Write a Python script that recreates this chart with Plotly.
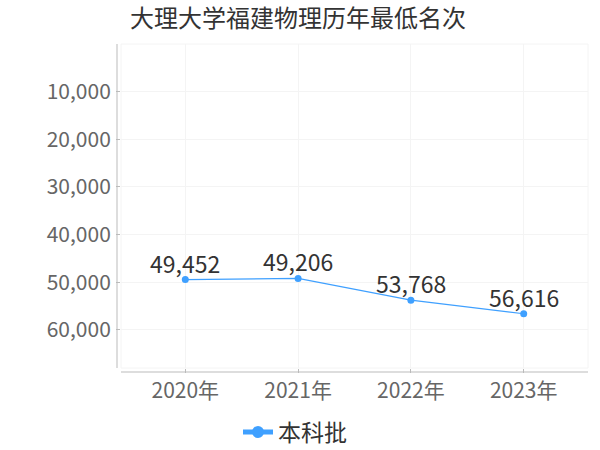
import plotly.graph_objects as go

years = ["2020年", "2021年", "2022年", "2023年"]
ranks = [49452, 49206, 53768, 56616]
rank_labels = ["49,452", "49,206", "53,768", "56,616"]
series_name = "本科批"
title_text = "大理大学福建物理历年最低名次"
y_ticks = [10000, 20000, 30000, 40000, 50000, 60000]

FONT = "Noto Sans CJK SC"
COLOR = "#3fa0ff"

fig = go.Figure()
fig.add_trace(go.Scatter(
    x=years, y=ranks, name=series_name, mode="lines+markers",
    line=dict(color=COLOR, width=1.2),
    marker=dict(color=COLOR, size=7),
    cliponaxis=False,
))

for xv, yv, lab in zip(years, ranks, rank_labels):
    fig.add_annotation(x=xv, y=yv, text=lab, showarrow=False,
                       xanchor="center", yanchor="bottom", yshift=-2,
                       font=dict(size=23, color="#333333", family=FONT))

fig.update_layout(
    width=600, height=450,
    margin=dict(l=121, r=12, t=44, b=82, autoexpand=False),
    paper_bgcolor="white", plot_bgcolor="white",
    title=dict(text=title_text, x=130/600, xanchor="left", yref="container",
               y=1-19/450, yanchor="middle",
               font=dict(size=24, color="#333333", family=FONT)),
    showlegend=True,
    legend=dict(orientation="h", xref="container", x=295/600, xanchor="center",
                yref="container", y=1-432/450, yanchor="middle",
                font=dict(size=23, color="#333333", family=FONT),
                itemwidth=30, itemsizing="constant"),
    xaxis=dict(range=[-0.57, 3.57], showgrid=True, gridcolor="#f4f4f4",
               showline=False, zeroline=False, ticks="outside", ticklen=4,
               tickcolor="#bbbbbb", automargin=False,
               tickfont=dict(size=21, color="#666666", family=FONT),
               fixedrange=True),
    yaxis=dict(range=[68000, 0], tickvals=y_ticks, tickformat=",",
               showgrid=True, gridcolor="#f4f4f4", showline=False, zeroline=False,
               ticks="outside", ticklen=4, tickcolor="#bbbbbb",
               ticklabelstandoff=1, automargin=False,
               tickfont=dict(size=21, color="#666666", family=FONT),
               fixedrange=True),
)

# offset axis lines (drawn slightly outside the plot area)
fig.add_shape(type="line", xref="paper", yref="paper", x0=0, x1=1, y0=-4/324, y1=-4/324,
              line=dict(color="#bbbbbb", width=1))
fig.add_shape(type="line", xref="paper", yref="paper", x0=-4/467, x1=-4/467, y0=0, y1=1,
              line=dict(color="#bbbbbb", width=1))
# plot frame edges
fig.add_shape(type="rect", xref="paper", yref="paper", x0=0, x1=1, y0=0, y1=1,
              line=dict(color="#f4f4f4", width=1), layer="below")

fig.write_html("out.html", config={"displayModeBar": False},
               post_script="document.body.style.margin='0';")
